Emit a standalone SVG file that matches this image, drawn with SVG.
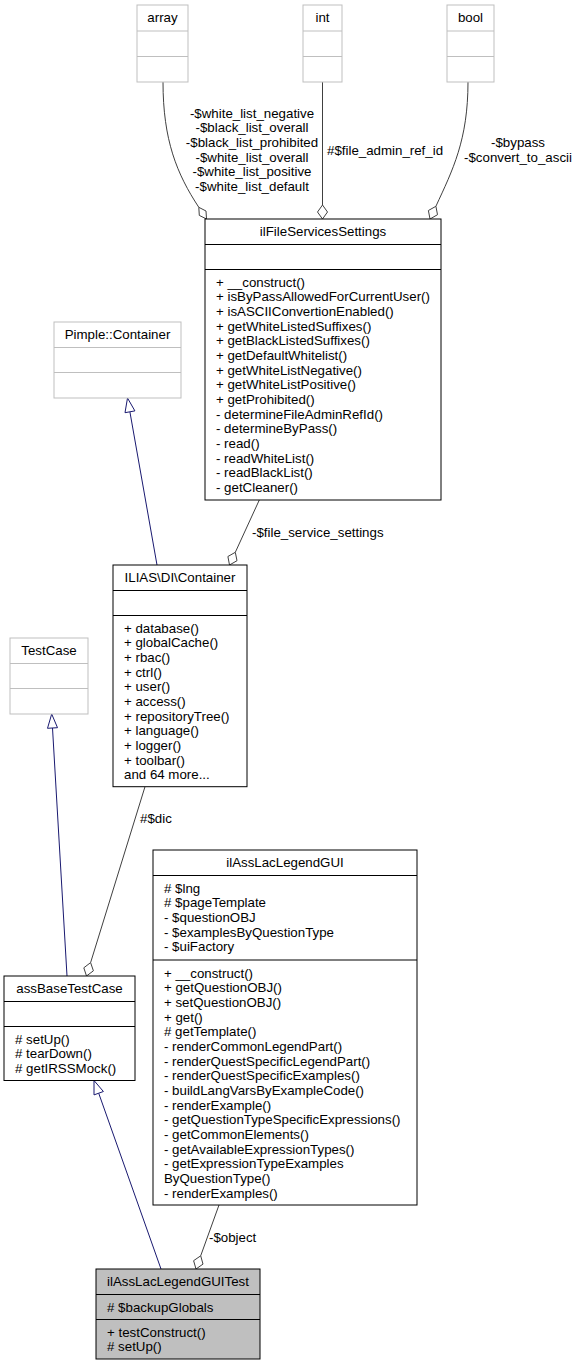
<svg xmlns="http://www.w3.org/2000/svg" width="576" height="1367" viewBox="0 0 576 1367">
<style>
text{font-family:"Liberation Sans",Arial,Helvetica,sans-serif;font-size:13.3px;fill:#000}
.c{text-anchor:middle}
.g{fill:#fff;stroke:#bfbfbf;stroke-width:1}
.b{fill:#fff;stroke:#000;stroke-width:1}
.m{fill:#bfbfbf;stroke:#000;stroke-width:1}
.gl{stroke:#bfbfbf;stroke-width:1}
.bl{stroke:#000;stroke-width:1}
.agg{fill:none;stroke:#404040;stroke-width:1}
.inh{fill:none;stroke:#191970;stroke-width:1}
.dia{fill:#fff;stroke:#404040;stroke-width:1}
.tri{fill:#fff;stroke:#191970;stroke-width:1}
</style>
<rect width="576" height="1367" fill="#fff"/>
<g id="connectors">
  <path class="agg" d="M163,82 C163,140 176.8,173.9 198.8,207.3"/>
  <polygon class="dia" points="206.5,219 206,211 198.8,207.3 199.3,215.4"/>
  <path class="agg" d="M322.5,82 L322.5,205"/>
  <polygon class="dia" points="322.5,219 327.5,212 322.5,205 317.5,212"/>
  <path class="agg" d="M468,82 C468,140 452.7,169.9 435.9,206.3"/>
  <polygon class="dia" points="430,219 437.5,214.7 435.9,206.3 428.4,210.5"/>
  <path class="inh" d="M157,565 L129.9,411.8"/>
  <polygon class="tri" points="127.5,398 134.9,410.9 125,412.7"/>
  <path class="agg" d="M259.3,500 L235.3,552.3"/>
  <polygon class="dia" points="229.5,565 237,560.7 235.3,552.3 227.9,556.5"/>
  <path class="agg" d="M145,786.7 L90.6,962.6"/>
  <polygon class="dia" points="86.5,976 93.4,970.8 90.6,962.6 83.8,967.8"/>
  <path class="inh" d="M67,976 L52.5,728"/>
  <polygon class="tri" points="51.7,714 57.5,727.7 47.5,728.3"/>
  <path class="inh" d="M161,1269 L98.7,1093.2"/>
  <polygon class="tri" points="94,1080.5 103.4,1091.5 94,1094.9"/>
  <path class="agg" d="M219,1205 L200.7,1255.8"/>
  <polygon class="dia" points="196,1269 203,1264.1 200.7,1255.8 193.6,1260.7"/>
  <text class="c" x="252" y="117.6">-$white_list_negative</text>
  <text class="c" x="252" y="132.3">-$black_list_overall</text>
  <text class="c" x="252" y="146.9">-$black_list_prohibited</text>
  <text class="c" x="252" y="161.6">-$white_list_overall</text>
  <text class="c" x="252" y="176.3">-$white_list_positive</text>
  <text class="c" x="252" y="190.9">-$white_list_default</text>
  <text x="327" y="154.6">#$file_admin_ref_id</text>
  <text class="c" x="518" y="146.9">-$bypass</text>
  <text class="c" x="518" y="161.6">-$convert_to_ascii</text>
  <text x="252" y="536.6">-$file_service_settings</text>
  <text x="140" y="823">#$dic</text>
  <text x="209" y="1241.6">-$object</text>
</g>
<g id="array">
  <rect class="g" x="137" y="5" width="51" height="77"/>
  <line class="gl" x1="137" y1="31" x2="188" y2="31"/>
  <line class="gl" x1="137" y1="56.5" x2="188" y2="56.5"/>
  <text class="c" x="162.5" y="22.3">array</text>
</g>
<g id="int">
  <rect class="g" x="303" y="5" width="39" height="77"/>
  <line class="gl" x1="303" y1="31" x2="342" y2="31"/>
  <line class="gl" x1="303" y1="56.5" x2="342" y2="56.5"/>
  <text class="c" x="322.5" y="22.3">int</text>
</g>
<g id="bool">
  <rect class="g" x="447" y="5" width="47" height="77"/>
  <line class="gl" x1="447" y1="31" x2="494" y2="31"/>
  <line class="gl" x1="447" y1="56.5" x2="494" y2="56.5"/>
  <text class="c" x="470.5" y="22.3">bool</text>
</g>
<g id="ilFileServicesSettings">
  <rect class="b" x="205" y="219" width="236" height="281"/>
  <line class="bl" x1="205" y1="244.5" x2="441" y2="244.5"/>
  <line class="bl" x1="205" y1="269.5" x2="441" y2="269.5"/>
  <text class="c" x="323" y="236.3">ilFileServicesSettings</text>
  <text x="216" y="286.6">+ __construct()</text>
  <text x="216" y="301.3">+ isByPassAllowedForCurrentUser()</text>
  <text x="216" y="315.9">+ isASCIIConvertionEnabled()</text>
  <text x="216" y="330.6">+ getWhiteListedSuffixes()</text>
  <text x="216" y="345.3">+ getBlackListedSuffixes()</text>
  <text x="216" y="359.9">+ getDefaultWhitelist()</text>
  <text x="216" y="374.6">+ getWhiteListNegative()</text>
  <text x="216" y="389.3">+ getWhiteListPositive()</text>
  <text x="216" y="403.9">+ getProhibited()</text>
  <text x="216" y="418.6">- determineFileAdminRefId()</text>
  <text x="216" y="433.3">- determineByPass()</text>
  <text x="216" y="447.9">- read()</text>
  <text x="216" y="462.6">- readWhiteList()</text>
  <text x="216" y="477.3">- readBlackList()</text>
  <text x="216" y="491.9">- getCleaner()</text>
</g>
<g id="PimpleContainer">
  <rect class="g" x="54" y="322" width="127" height="76"/>
  <line class="gl" x1="54" y1="347.5" x2="181" y2="347.5"/>
  <line class="gl" x1="54" y1="372.5" x2="181" y2="372.5"/>
  <text class="c" x="117.5" y="339.4">Pimple::Container</text>
</g>
<g id="ILIASDIContainer">
  <rect class="b" x="113" y="565" width="134" height="221.7"/>
  <line class="bl" x1="113" y1="590.5" x2="247" y2="590.5"/>
  <line class="bl" x1="113" y1="615.5" x2="247" y2="615.5"/>
  <text class="c" x="180" y="582.4">ILIAS\DI\Container</text>
  <text x="124" y="632.6">+ database()</text>
  <text x="124" y="647.3">+ globalCache()</text>
  <text x="124" y="661.9">+ rbac()</text>
  <text x="124" y="676.6">+ ctrl()</text>
  <text x="124" y="691.3">+ user()</text>
  <text x="124" y="705.9">+ access()</text>
  <text x="124" y="720.6">+ repositoryTree()</text>
  <text x="124" y="735.3">+ language()</text>
  <text x="124" y="749.9">+ logger()</text>
  <text x="124" y="764.6">+ toolbar()</text>
  <text x="124" y="779.3">and 64 more...</text>
</g>
<g id="TestCase">
  <rect class="g" x="10" y="638" width="78" height="76"/>
  <line class="gl" x1="10" y1="663.5" x2="88" y2="663.5"/>
  <line class="gl" x1="10" y1="688.5" x2="88" y2="688.5"/>
  <text class="c" x="49" y="655.4">TestCase</text>
</g>
<g id="ilAssLacLegendGUI">
  <rect class="b" x="153" y="850" width="264" height="355"/>
  <line class="bl" x1="153" y1="875.5" x2="417" y2="875.5"/>
  <line class="bl" x1="153" y1="960" x2="417" y2="960"/>
  <text class="c" x="285" y="867.4">ilAssLacLegendGUI</text>
  <text x="164" y="892.6"># $lng</text>
  <text x="164" y="907.3"># $pageTemplate</text>
  <text x="164" y="921.9">- $questionOBJ</text>
  <text x="164" y="936.6">- $examplesByQuestionType</text>
  <text x="164" y="951.3">- $uiFactory</text>
  <text x="164" y="977.5">+ __construct()</text>
  <text x="164" y="992.2">+ getQuestionOBJ()</text>
  <text x="164" y="1006.8">+ setQuestionOBJ()</text>
  <text x="164" y="1021.5">+ get()</text>
  <text x="164" y="1036.2"># getTemplate()</text>
  <text x="164" y="1050.8">- renderCommonLegendPart()</text>
  <text x="164" y="1065.5">- renderQuestSpecificLegendPart()</text>
  <text x="164" y="1080.2">- renderQuestSpecificExamples()</text>
  <text x="164" y="1094.8">- buildLangVarsByExampleCode()</text>
  <text x="164" y="1109.5">- renderExample()</text>
  <text x="164" y="1124.2">- getQuestionTypeSpecificExpressions()</text>
  <text x="164" y="1138.8">- getCommonElements()</text>
  <text x="164" y="1153.5">- getAvailableExpressionTypes()</text>
  <text x="164" y="1168.2">- getExpressionTypeExamples</text>
  <text x="164" y="1182.8">ByQuestionType()</text>
  <text x="164" y="1197.5">- renderExamples()</text>
</g>
<g id="assBaseTestCase">
  <rect class="b" x="4" y="976" width="131" height="104.5"/>
  <line class="bl" x1="4" y1="1001.5" x2="135" y2="1001.5"/>
  <line class="bl" x1="4" y1="1026.5" x2="135" y2="1026.5"/>
  <text class="c" x="69.5" y="993.4">assBaseTestCase</text>
  <text x="15" y="1043.6"># setUp()</text>
  <text x="15" y="1058.3"># tearDown()</text>
  <text x="15" y="1072.9"># getIRSSMock()</text>
</g>
<g id="ilAssLacLegendGUITest">
  <rect class="m" x="96" y="1269" width="164" height="90"/>
  <line class="bl" x1="96" y1="1294.5" x2="260" y2="1294.5"/>
  <line class="bl" x1="96" y1="1319.5" x2="260" y2="1319.5"/>
  <text class="c" x="178" y="1286.4">ilAssLacLegendGUITest</text>
  <text x="107" y="1311.6"># $backupGlobals</text>
  <text x="107" y="1336.6">+ testConstruct()</text>
  <text x="107" y="1351.3"># setUp()</text>
</g>
</svg>
